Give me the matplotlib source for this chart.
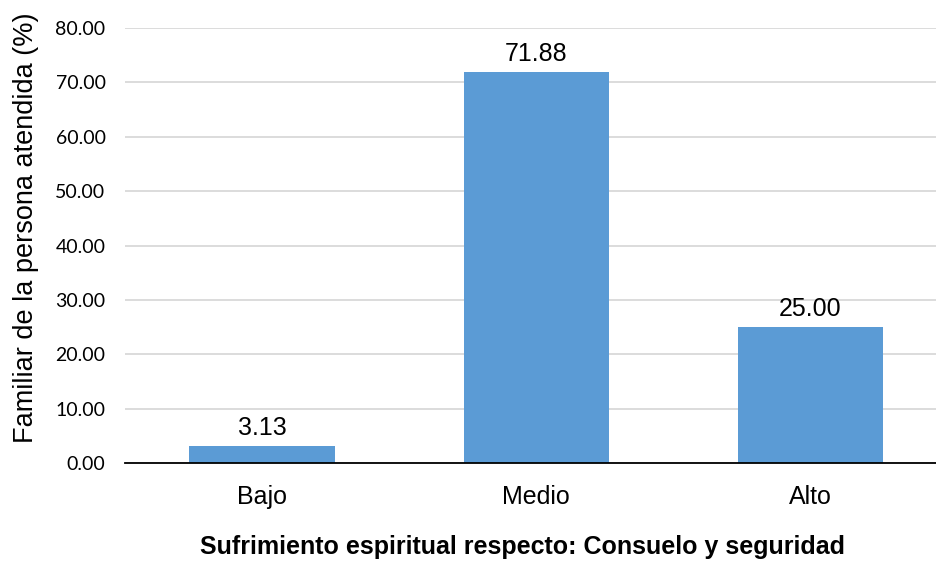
import matplotlib
matplotlib.use("Agg")
import matplotlib.pyplot as plt
import numpy as np

categorias = ['Bajo', 'Medio', 'Alto']
porcentajes = [3.13, 71.88, 25.00]
yticks = np.arange(0, 90, 10)

plt.rcParams['font.family'] = ['Liberation Sans', 'DejaVu Sans']

fig = plt.figure(figsize=(9.36, 5.62), dpi=100)
ax = fig.add_axes([0.1335, 0.176, 0.866, 0.774])

x = np.arange(len(categorias))
bars = ax.bar(x, porcentajes, width=0.53, color='#5B9BD5', zorder=3)

for b, v in zip(bars, porcentajes):
    ax.text(b.get_x() + b.get_width() / 2, v + 1.2, f'{v:.2f}',
            ha='center', va='bottom', fontsize=18, color='#000000')

ax.set_xlim(-0.5, 2.456)
ax.set_ylim(0, 80)
ax.set_yticks(yticks)
ax.set_yticklabels([f'{t:.2f}' for t in yticks], fontsize=14, family=['Lato', 'DejaVu Sans'])
ax.set_xticks(x)
ax.set_xticklabels(categorias, fontsize=18)
ax.tick_params(axis='y', length=0, pad=14)
ax.tick_params(axis='x', length=0, pad=16)

ax.grid(axis='y', color='#d9d9d9', linewidth=1.3, zorder=0)
for s in ['top', 'right', 'left']:
    ax.spines[s].set_visible(False)
ax.spines['bottom'].set_color('black')
ax.spines['bottom'].set_linewidth(1.3)
ax.spines['bottom'].set_zorder(4)

ax.set_ylabel('Familiar de la persona atendida (%)', fontsize=19.5)
ax.yaxis.set_label_coords(-0.106, 0.54)
fig.text(0.558, 0.005, 'Sufrimiento espiritual respecto: Consuelo y seguridad',
         ha='center', va='bottom', fontsize=18, fontweight='bold')

fig.savefig('out.png', dpi=100)
